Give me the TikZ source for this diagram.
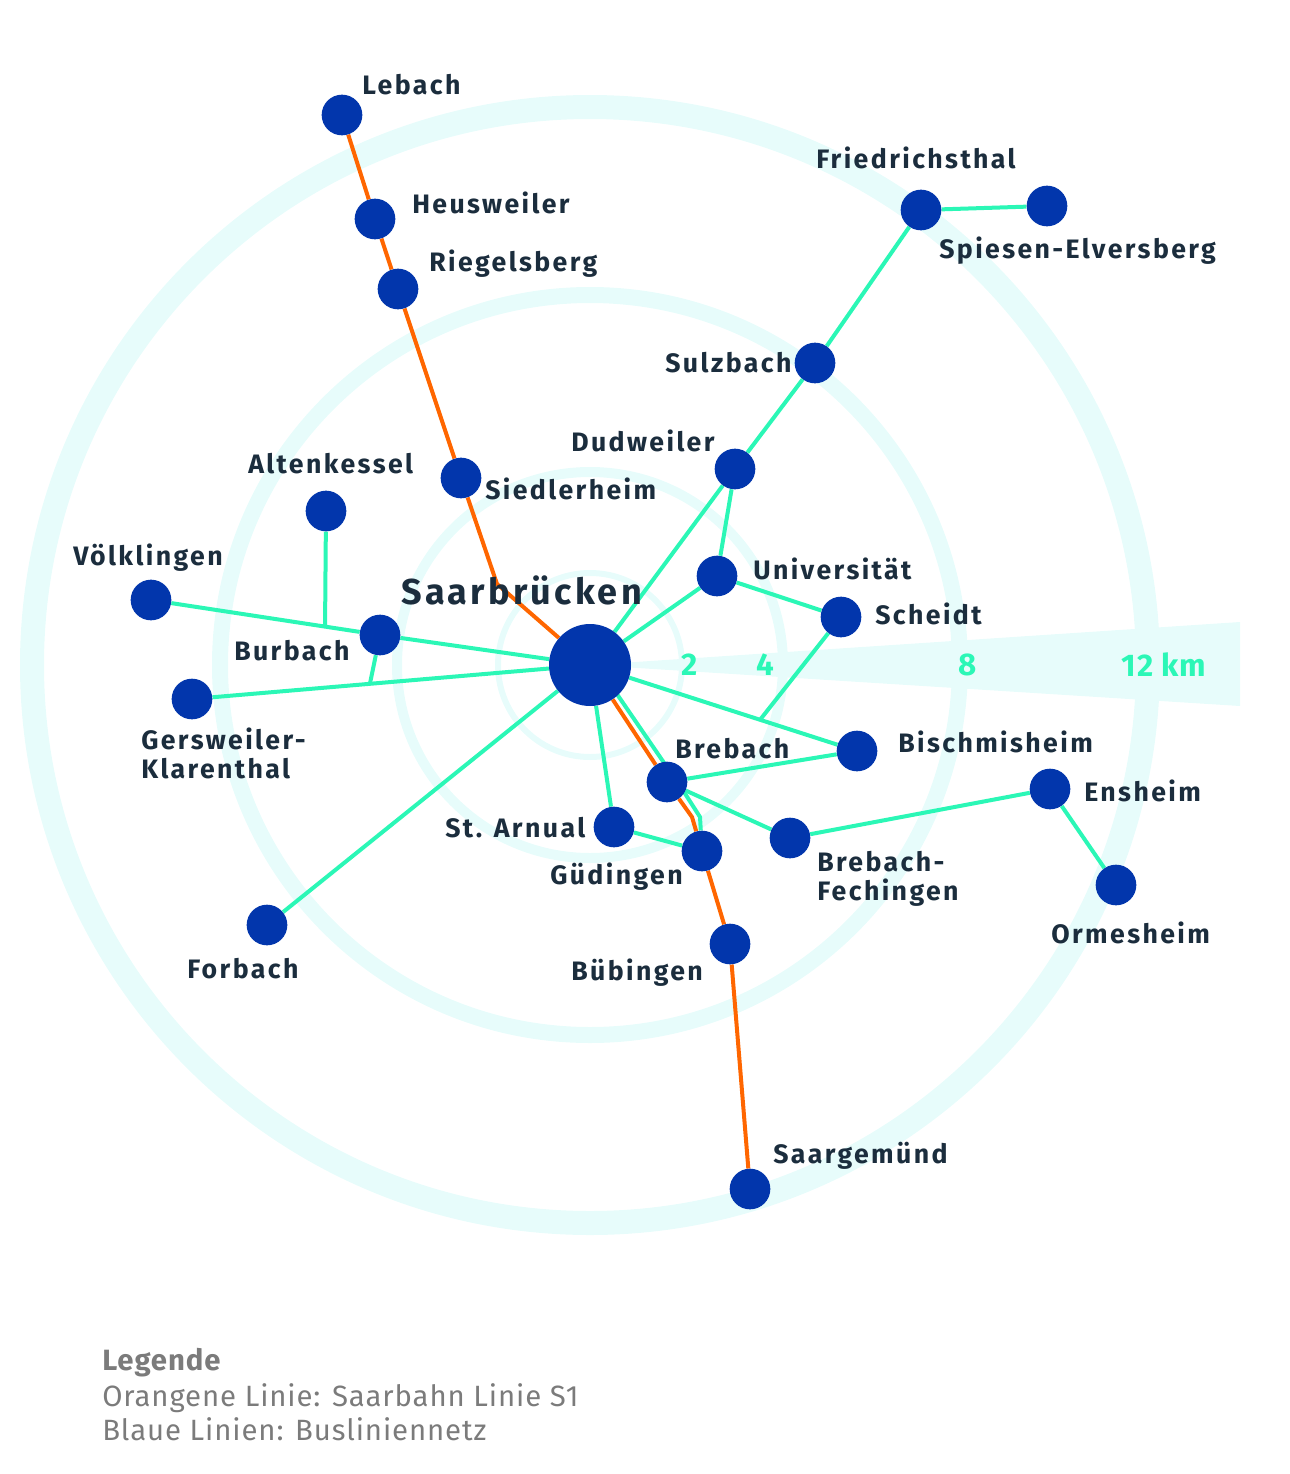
\documentclass[tikz,border=0pt]{standalone}
\usepackage{fontspec}
\setmainfont{Fira Sans}[LetterSpace=3]
\newfontfamily\stationfont{Fira Sans}[LetterSpace=9]
\usetikzlibrary{calc}

\definecolor{stopblue}{HTML}{0236AC}
\definecolor{busmint}{HTML}{2BF7B6}
\definecolor{sbahnorange}{HTML}{FF6600}
\definecolor{ringcyan}{HTML}{E7FCFB}
\definecolor{labelnavy}{HTML}{1B2D3D}
\definecolor{legendgrey}{HTML}{7B7B7B}

\pgfdeclarelayer{rings}
\pgfdeclarelayer{lines}
\pgfsetlayers{rings,lines,main}

\begin{document}
\begin{tikzpicture}[x=0.75pt, y=-0.75pt,
    stop/.style={circle, fill=stopblue, minimum size=30.5pt, inner sep=0pt},
    hub/.style={circle, fill=stopblue, minimum size=61.5pt, inner sep=0pt},
    place/.style={anchor=base west, inner sep=0pt, text=labelnavy, align=left,
        font=\stationfont\bfseries\fontsize{20}{21.75}\selectfont},
    bus/.style={busmint, line width=3pt},
    rail/.style={sbahnorange, line width=3pt, line join=round},
    ring/.style={ringcyan},
    scalelabel/.style={text=busmint, inner sep=0pt,
        font=\bfseries\fontsize{23.5}{25}\selectfont},
    legendline/.style={anchor=base west, inner sep=0pt, text=legendgrey,
        font=\fontsize{22}{26}\selectfont}]

    \useasboundingbox (0,0) rectangle (1289,1474);

    % stops
    \node[hub]  (sb)      at (590,665) {};
    \node[stop] (lebach)  at (342,115) {};
    \node[stop] (heus)    at (375,219) {};
    \node[stop] (riegel)  at (398,289) {};
    \node[stop] (siedler) at (461,478) {};
    \node[stop] (alten)   at (326,511) {};
    \node[stop] (voelk)   at (151,600) {};
    \node[stop] (burb)    at (380,635) {};
    \node[stop] (gers)    at (192,699) {};
    \node[stop] (forb)    at (267,925) {};
    \node[stop] (fried)   at (921,210) {};
    \node[stop] (spies)   at (1047,206) {};
    \node[stop] (sulz)    at (815,363) {};
    \node[stop] (dud)     at (735,469) {};
    \node[stop] (uni)     at (717,576) {};
    \node[stop] (scheidt) at (841,617) {};
    \node[stop] (bisch)   at (857,751) {};
    \node[stop] (breb)    at (667,782) {};
    \node[stop] (arn)     at (614,827) {};
    \node[stop] (gued)    at (702,851) {};
    \node[stop] (fech)    at (790,838) {};
    \node[stop] (ens)     at (1050,789) {};
    \node[stop] (orm)     at (1116,885) {};
    \node[stop] (bueb)    at (730,944) {};
    \node[stop] (saarg)   at (750,1189) {};

    \coordinate (scheidtJ) at ($(sb)!0.637!(bisch)$);
    \coordinate (altenJ)   at ($(voelk)!0.76!(burb)$);
    \coordinate (burbJ)    at ($(gers)!0.447!(sb)$);
    \coordinate (railN)    at (497,584);
    \coordinate (railS)    at (692,817);
    \coordinate (brebM)    at (684,792);
    \coordinate (guedM)    at (700,817);

    % distance rings
    \begin{pgfonlayer}{rings}
        \foreach \r/\w in {92/4.5, 193/7.5, 370/12, 558/18}
            \draw[ring, line width=\w pt] (sb.center) circle[radius=\r];
        \fill[ring] (sb.center) -- (1240,622) -- (1240,706) -- cycle;
    \end{pgfonlayer}

    \node[scalelabel] (km2)  at (690,665) {2};
    \node[scalelabel] (km4)  at (765,665) {4};
    \node[scalelabel] (km8)  at (968,665) {8};
    \node[scalelabel] (km12) at (1164,665) {12 km};

    \begin{pgfonlayer}{lines}
        % bus network
        \draw[bus] (spies) -- (fried) -- (sulz) -- (dud) -- (sb);
        \draw[bus] (dud) -- (uni) -- (scheidt) -- (scheidtJ);
        \draw[bus] (uni) -- (sb);
        \draw[bus] (sb) -- (bisch) -- (breb) -- (fech) -- (ens) -- (orm);
        \draw[bus] (sb) -- (arn) -- (gued);
        \draw[bus] ([shift={(5,-3)}]sb.center) -- (brebM) -- (guedM) -- (gued);
        \draw[bus] (sb) -- (forb);
        \draw[bus] (voelk) -- (burb) -- (sb);
        \draw[bus] (gers) -- (sb);
        \draw[bus] (alten) -- (altenJ);
        \draw[bus] (burb) -- (burbJ);
        % Saarbahn S1
        \draw[rail] (lebach) -- (heus) -- (riegel) -- (siedler) -- (railN) -- (sb)
            -- (breb) -- (railS) -- (gued) -- (bueb) -- (saarg);
    \end{pgfonlayer}

    % station names
    \node[place, font=\stationfont\bfseries\fontsize{27}{30}\selectfont] (sbL) at (401,604) {Saarbrücken};
    \node[place] (lebachL)  at (362,94)   {Lebach};
    \node[place] (heusL)    at (412,213)  {Heusweiler};
    \node[place] (riegelL)  at (429,271)  {Riegelsberg};
    \node[place] (siedlerL) at (485,499)  {Siedlerheim};
    \node[place] (altenL)   at (248,473)  {Altenkessel};
    \node[place] (voelkL)   at (73,565)   {Völklingen};
    \node[place] (burbL)    at (234,660)  {Burbach};
    \node[place] (gersL)    at (141,778)  {Gersweiler-\\Klarenthal};
    \node[place] (forbL)    at (187,978)  {Forbach};
    \node[place] (friedL)   at (816,168)  {Friedrichsthal};
    \node[place] (spiesL)   at (939,258)  {Spiesen-Elversberg};
    \node[place] (sulzL)    at (665,372)  {Sulzbach};
    \node[place] (dudL)     at (571,451)  {Dudweiler};
    \node[place] (uniL)     at (753,579)  {Universität};
    \node[place] (scheidtL) at (875,624)  {Scheidt};
    \node[place] (bischL)   at (898,752)  {Bischmisheim};
    \node[place] (ensL)     at (1084,801) {Ensheim};
    \node[place] (ormL)     at (1051,943) {Ormesheim};
    \node[place] (brebL)    at (675,758)  {Brebach};
    \node[place] (arnL)     at (445,837)  {St. Arnual};
    \node[place] (guedL)    at (550,884)  {Güdingen};
    \node[place] (fechL)    at (817,900)  {Brebach-\\Fechingen};
    \node[place] (buebL)    at (571,980)  {Bübingen};
    \node[place] (saargL)   at (773,1163) {Saargemünd};

    % legend
    \node[legendline, font=\bfseries\fontsize{22}{26}\selectfont] (legTitle) at (102,1370) {Legende};
    \node[legendline] (legRail) at (102,1406) {Orangene Linie: Saarbahn Linie S1};
    \node[legendline] (legBus)  at (102,1440) {Blaue Linien: Busliniennetz};

\end{tikzpicture}
\end{document}
